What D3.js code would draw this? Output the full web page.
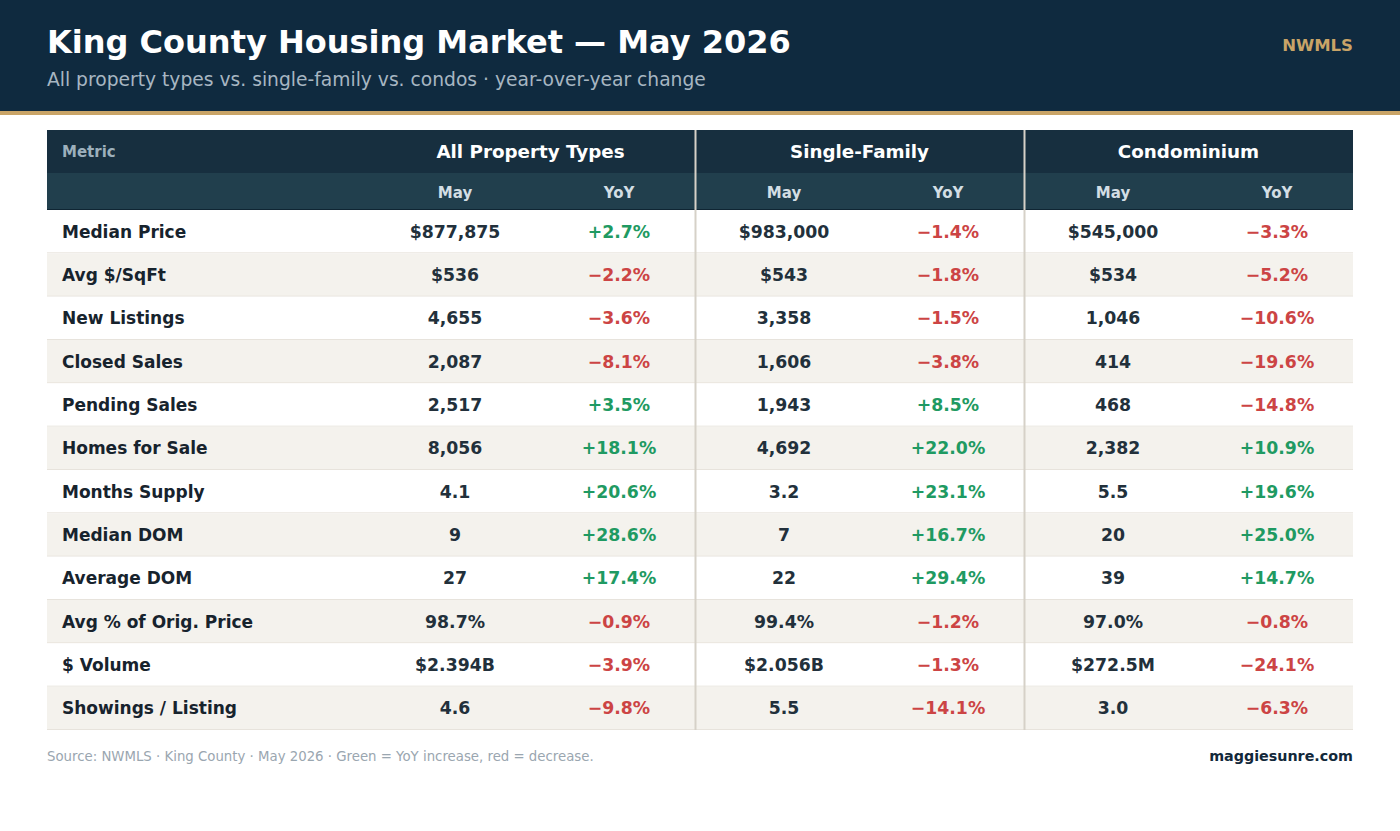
<!DOCTYPE html>
<html>
<head>
<meta charset="utf-8">
<script src="https://cdn.jsdelivr.net/npm/d3@7"></script>
<style>
  html, body { margin: 0; padding: 0; background: #ffffff; }
  svg { display: block; font-family: "DejaVu Sans", sans-serif; }
</style>
</head>
<body>
<div id="chart"></div>
<script>
const metrics = ['Median Price', 'Avg $/SqFt', 'New Listings', 'Closed Sales', 'Pending Sales', 'Homes for Sale',
    'Months Supply', 'Median DOM', 'Average DOM', 'Avg % of Orig. Price', '$ Volume', 'Showings / Listing'];
const groups = ['All Property Types', 'Single-Family', 'Condominium'];
const subHeads = ['May', 'YoY'];

const allMay = ['$877,875', '$536', '4,655', '2,087', '2,517', '8,056', '4.1', '9', '27', '98.7%', '$2.394B', '4.6'];
const allYoy = [2.7, -2.2, -3.6, -8.1, 3.5, 18.1, 20.6, 28.6, 17.4, -0.9, -3.9, -9.8];
const sfMay = ['$983,000', '$543', '3,358', '1,606', '1,943', '4,692', '3.2', '7', '22', '99.4%', '$2.056B', '5.5'];
const sfYoy = [-1.4, -1.8, -1.5, -3.8, 8.5, 22.0, 23.1, 16.7, 29.4, -1.2, -1.3, -14.1];
const condoMay = ['$545,000', '$534', '1,046', '414', '468', '2,382', '5.5', '20', '39', '97.0%', '$272.5M', '3.0'];
const condoYoy = [-3.3, -5.2, -10.6, -19.6, -14.8, 10.9, 19.6, 25.0, 14.7, -0.8, -24.1, -6.3];

const mayValues = [allMay, sfMay, condoMay];
const yoyValues = [allYoy, sfYoy, condoYoy];

const width = 1400, height = 831;
const tableLeft = 47, tableRight = 1353;
const metricWidth = 319;
const headTop = 130, head1 = 43, head2 = 37;
const bodyTop = headTop + head1 + head2, bodyBottom = 730;

const svg = d3.select('#chart').append('svg')
    .attr('width', width)
    .attr('height', height);

// banner
svg.append('rect')
    .attr('width', width).attr('height', 112)
    .attr('fill', '#0f2a3f');
svg.append('rect')
    .attr('y', 111).attr('width', width).attr('height', 4)
    .attr('fill', '#c9a467');
svg.append('text')
    .attr('x', 47).attr('y', 53)
    .attr('fill', '#ffffff')
    .attr('font-size', 32).attr('font-weight', 'bold')
    .text('King County Housing Market — May 2026');
svg.append('text')
    .attr('x', 47).attr('y', 86)
    .attr('fill', '#a7b6c2')
    .attr('font-size', 18.7)
    .text('All property types vs. single-family vs. condos · year-over-year change');
svg.append('text')
    .attr('x', 1353).attr('y', 51)
    .attr('text-anchor', 'end')
    .attr('fill', '#c9a467')
    .attr('font-size', 16.5).attr('font-weight', 'bold')
    .text('NWMLS');

// scales
let groupX = d3.scaleBand()
    .domain(groups)
    .range([tableLeft + metricWidth, tableRight]);
let subX = d3.scaleOrdinal()
    .domain(subHeads)
    .range([89, 253]);
let rowY = d3.scaleBand()
    .domain(metrics)
    .range([bodyTop, bodyBottom]);

// header rows
svg.append('rect')
    .attr('x', tableLeft).attr('y', headTop)
    .attr('width', tableRight - tableLeft).attr('height', head1)
    .attr('fill', '#172f3f');
svg.append('rect')
    .attr('x', tableLeft).attr('y', headTop + head1)
    .attr('width', tableRight - tableLeft).attr('height', head2)
    .attr('fill', '#213f4d');
svg.append('line')
    .attr('x1', tableLeft).attr('x2', tableRight)
    .attr('y1', bodyTop - 0.5).attr('y2', bodyTop - 0.5)
    .attr('stroke', '#0f2533').attr('stroke-width', 1);

svg.append('text')
    .attr('x', 62).attr('y', headTop + 27)
    .attr('fill', '#9db0bc')
    .attr('font-size', 15).attr('font-weight', 'bold')
    .text('Metric');

svg.selectAll('.group-title')
    .data(groups)
    .enter()
    .append('text')
    .classed('group-title', true)
    .attr('x', d => groupX(d) + groupX.bandwidth() / 2)
    .attr('y', headTop + 28)
    .attr('text-anchor', 'middle')
    .attr('fill', '#ffffff')
    .attr('font-size', 18.3).attr('font-weight', 'bold')
    .text(d => d);

let subCells = groups.flatMap(g => subHeads.map(s => ({ g, s })));
svg.selectAll('.sub-head')
    .data(subCells)
    .enter()
    .append('text')
    .classed('sub-head', true)
    .attr('x', d => groupX(d.g) + subX(d.s))
    .attr('y', headTop + head1 + 25)
    .attr('text-anchor', 'middle')
    .attr('fill', '#d3dee4')
    .attr('font-size', 15).attr('font-weight', 'bold')
    .text(d => d.s);

// body rows
let rows = svg.selectAll('.row')
    .data(metrics)
    .enter()
    .append('g')
    .classed('row', true)
    .attr('transform', d => `translate(0 ${rowY(d)})`);

rows.append('rect')
    .attr('x', tableLeft)
    .attr('width', tableRight - tableLeft)
    .attr('height', rowY.bandwidth())
    .attr('fill', (d, i) => i % 2 ? '#f4f2ed' : '#ffffff');

rows.append('line')
    .attr('x1', tableLeft).attr('x2', tableRight)
    .attr('y1', rowY.bandwidth() - 0.5).attr('y2', rowY.bandwidth() - 0.5)
    .attr('stroke', '#e7e3dc').attr('stroke-width', 1);

rows.append('text')
    .attr('x', 62)
    .attr('y', rowY.bandwidth() / 2 + 6)
    .attr('fill', '#17232d')
    .attr('font-size', 17).attr('font-weight', 'bold')
    .text(d => d);

const fmtPct = v => (v >= 0 ? '+' : '\u2212') + Math.abs(v).toFixed(1) + '%';

groups.forEach((g, gi) => {
    rows.append('text')
        .attr('x', groupX(g) + subX('May'))
        .attr('y', rowY.bandwidth() / 2 + 6)
        .attr('text-anchor', 'middle')
        .attr('fill', '#22303b')
        .attr('font-size', 17.3).attr('font-weight', 'bold')
        .text((d, i) => mayValues[gi][i]);

    rows.append('text')
        .attr('x', groupX(g) + subX('YoY'))
        .attr('y', rowY.bandwidth() / 2 + 6)
        .attr('text-anchor', 'middle')
        .attr('fill', (d, i) => yoyValues[gi][i] >= 0 ? '#1f9a62' : '#cc4444')
        .attr('font-size', 17.3).attr('font-weight', 'bold')
        .text((d, i) => fmtPct(yoyValues[gi][i]));
});

// group separators
svg.selectAll('.group-sep')
    .data(groups.slice(1))
    .enter()
    .append('line')
    .classed('group-sep', true)
    .attr('x1', d => Math.round(groupX(d)) + 0.5)
    .attr('x2', d => Math.round(groupX(d)) + 0.5)
    .attr('y1', headTop).attr('y2', bodyBottom)
    .attr('stroke', '#d6d1c8').attr('stroke-width', 2);

// footer
svg.append('text')
    .attr('x', 47).attr('y', 761)
    .attr('fill', '#9aa6b0')
    .attr('font-size', 13.3)
    .text('Source: NWMLS · King County · May 2026 · Green = YoY increase, red = decrease.');
svg.append('text')
    .attr('x', 1353).attr('y', 761)
    .attr('text-anchor', 'end')
    .attr('fill', '#12283a')
    .attr('font-size', 14.3).attr('font-weight', 'bold')
    .text('maggiesunre.com');
</script>
</body>
</html>
